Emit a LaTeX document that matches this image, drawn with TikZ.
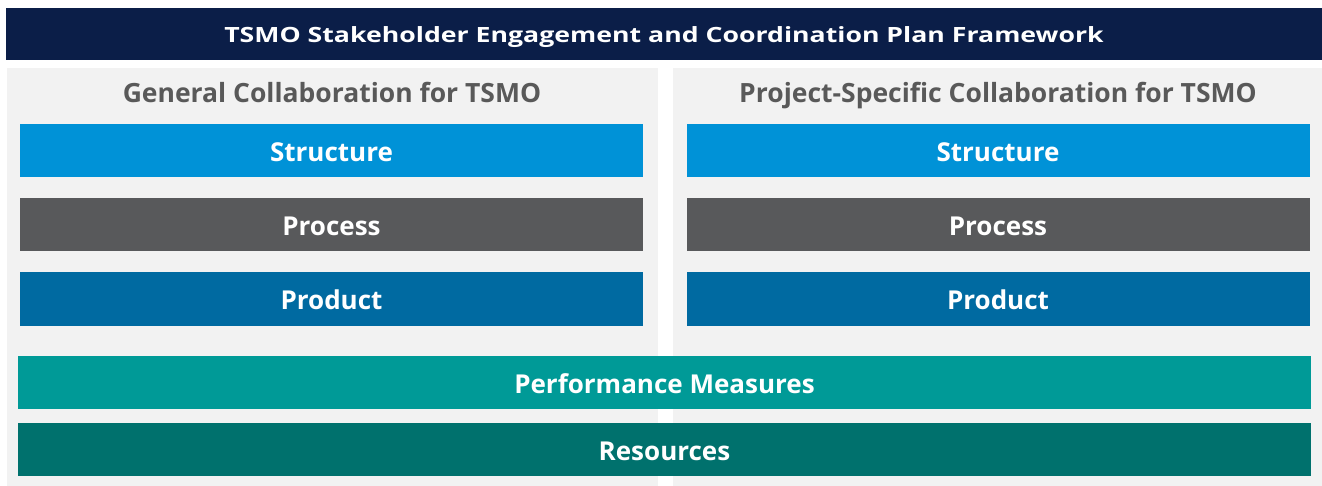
\documentclass[tikz,border=0pt]{standalone}
\usepackage{fontspec}
\setmainfont{Open Sans}
\newfontfamily\titlefont[FakeStretch=1.27]{Open Sans}
\usetikzlibrary{positioning}

\definecolor{navy}{HTML}{0B1E48}
\definecolor{panelgray}{HTML}{F2F2F2}
\definecolor{headgray}{HTML}{595959}
\definecolor{structblue}{HTML}{0092D7}
\definecolor{procgray}{HTML}{58595B}
\definecolor{prodblue}{HTML}{006AA1}
\definecolor{perfteal}{HTML}{009A97}
\definecolor{resteal}{HTML}{00716D}

\tikzset{
  bar/.style={inner sep=0pt, text=white, text height=21.5pt, text depth=0pt, font=\bfseries\fontsize{26}{30}\selectfont},
  halfbar/.style={bar, minimum width=623pt, minimum height=53pt},
  fullbar/.style={bar, minimum width=1293pt, minimum height=53pt},
  panel/.style={fill=panelgray, draw=none},
  header/.style={anchor=base, text=headgray, font=\bfseries\fontsize{26.5}{30}\selectfont},
}

\begin{document}
\begin{tikzpicture}[x=1pt, y=-1pt]
   % frame
   \useasboundingbox (0,0) rectangle (1322,486);

   % title
   \node[bar, fill=navy, minimum width=1316pt, minimum height=52pt, text height=17pt,
         font=\titlefont\bfseries\fontsize{21}{24}\selectfont] (title) at (664,34)
     {TSMO Stakeholder Engagement and Coordination Plan Framework};

   % panels
   \path[panel] (7,68) rectangle (658,486);
   \path[panel] (673,68) rectangle (1322,486);

   % headers
   \node[header] (genhead) at (332,102.5) {General Collaboration for TSMO};
   \node[header] (projhead) at (998,102.5) {Project-Specific Collaboration for TSMO};

   % left column
   \node[halfbar, fill=structblue] (genstruct) at (331.5,150.5) {Structure};
   \node[halfbar, fill=procgray]   (genproc)   at (331.5,224.5) {Process};
   \node[halfbar, fill=prodblue]   (genprod)   at (331.5,299)   {Product};

   % right column
   \node[halfbar, fill=structblue] (projstruct) at (998,150.5) {Structure};
   \node[halfbar, fill=procgray]   (projproc)   at (998,224.5) {Process};
   \node[halfbar, fill=prodblue]   (projprod)   at (998,299)   {Product};

   % shared rows
   \node[fullbar, fill=perfteal] (perf) at (664.5,382.5) {Performance Measures};
   \node[fullbar, fill=resteal]  (res)  at (664.5,449.5) {Resources};
\end{tikzpicture}
\end{document}
